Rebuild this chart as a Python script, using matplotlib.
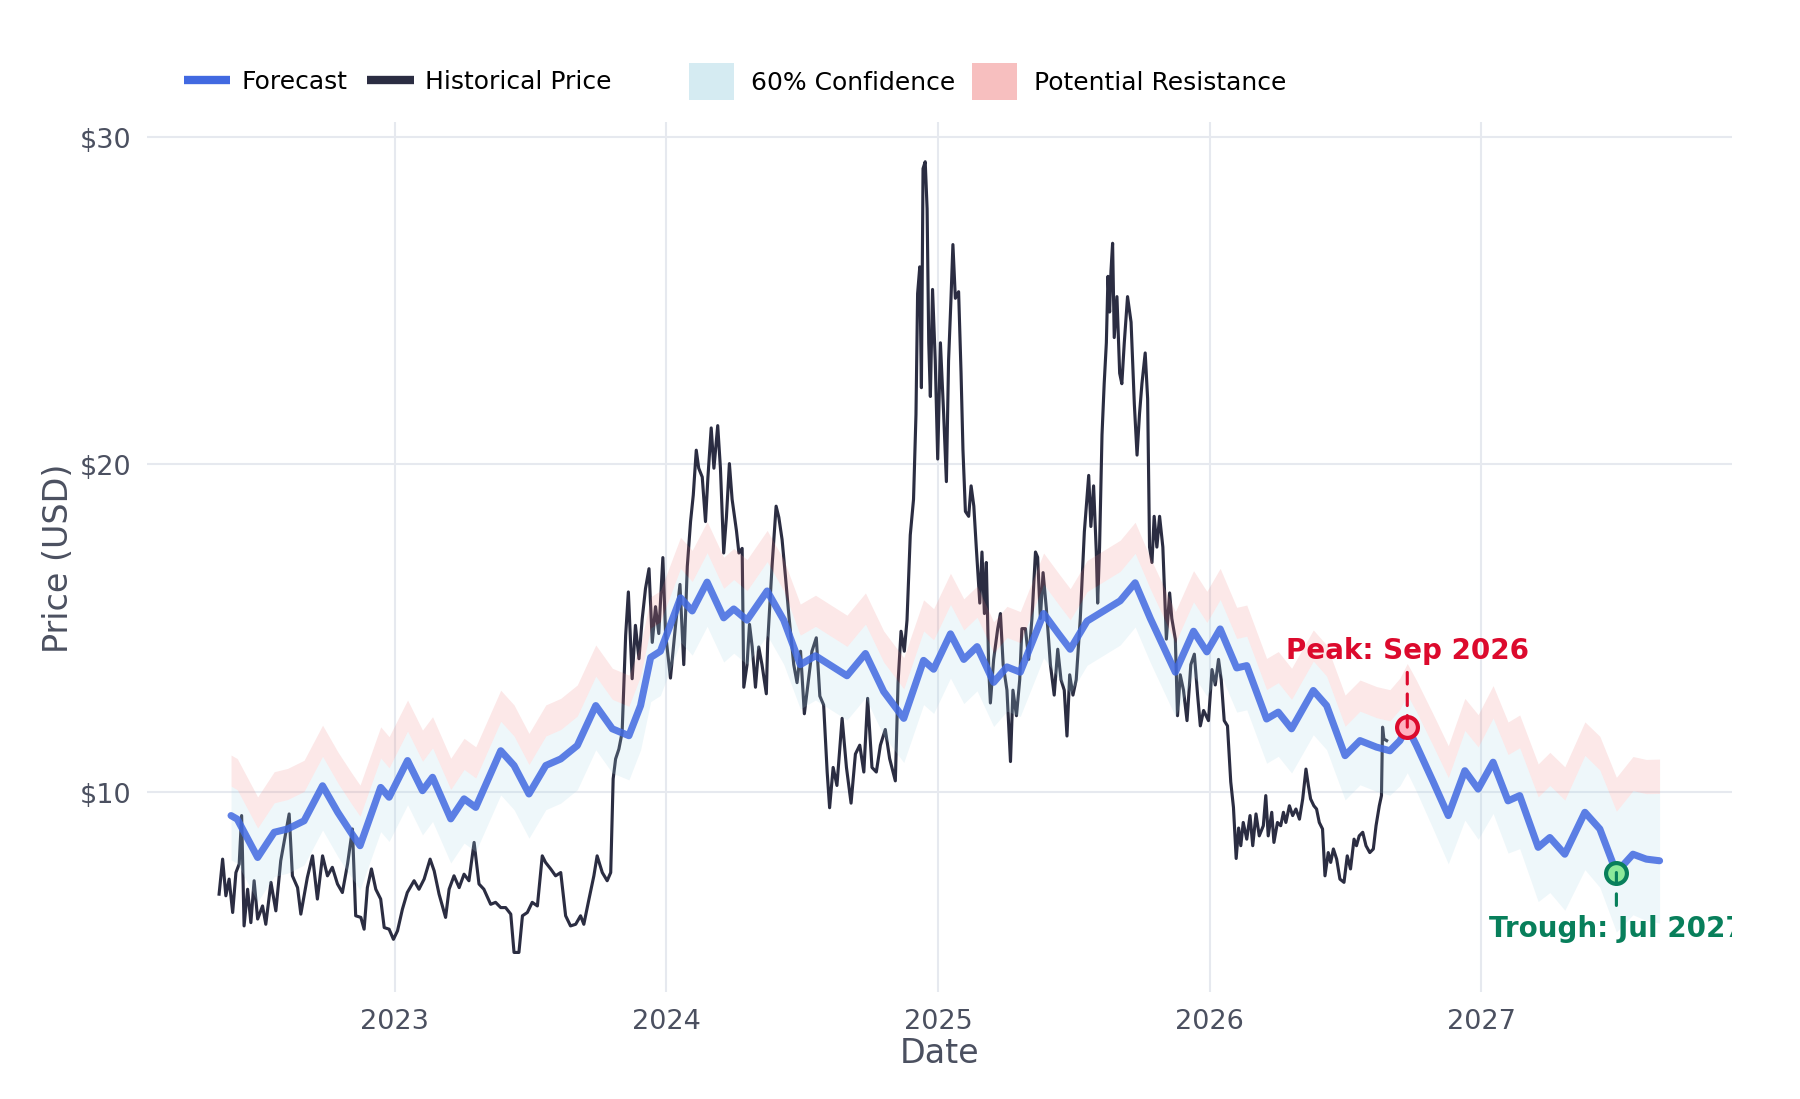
"""
Price history vs. forecast chart with confidence / resistance bands.
"""

from __future__ import annotations

import matplotlib

# Non-interactive backend, no display here.
matplotlib.use("Agg")

import matplotlib.pyplot as plt
import numpy as np
from matplotlib.lines import Line2D
from matplotlib.patches import Patch
from matplotlib.ticker import FuncFormatter

# ---------------------------------------------------------------------------
# Data (decimal years, USD)
# ---------------------------------------------------------------------------

hist_t = [
    2022.353, 2022.366, 2022.378, 2022.390, 2022.403, 2022.415, 2022.427, 2022.436,
    2022.445, 2022.458, 2022.470, 2022.482, 2022.495, 2022.513, 2022.525, 2022.544,
    2022.562, 2022.580, 2022.599, 2022.611, 2022.623, 2022.642, 2022.654, 2022.678,
    2022.697, 2022.715, 2022.734, 2022.752, 2022.770, 2022.789, 2022.807, 2022.826,
    2022.844, 2022.856, 2022.875, 2022.887, 2022.899, 2022.914, 2022.930, 2022.948,
    2022.961, 2022.979, 2022.995, 2023.010, 2023.028, 2023.046, 2023.071, 2023.089,
    2023.108, 2023.130, 2023.145, 2023.163, 2023.187, 2023.200, 2023.218, 2023.237,
    2023.255, 2023.273, 2023.292, 2023.310, 2023.328, 2023.353, 2023.371, 2023.390,
    2023.408, 2023.427, 2023.439, 2023.457, 2023.470, 2023.488, 2023.506, 2023.525,
    2023.543, 2023.555, 2023.574, 2023.592, 2023.611, 2023.629, 2023.647, 2023.666,
    2023.684, 2023.696, 2023.715, 2023.733, 2023.745, 2023.764, 2023.782, 2023.795,
    2023.804, 2023.813, 2023.825, 2023.837, 2023.850, 2023.860, 2023.874, 2023.886,
    2023.899, 2023.911, 2023.923, 2023.936,
    2023.948, 2023.960, 2023.972, 2023.987, 2023.997, 2024.015, 2024.034, 2024.050,
    2024.064, 2024.077, 2024.089, 2024.099, 2024.110, 2024.119, 2024.132, 2024.144,
    2024.153, 2024.165, 2024.175, 2024.189, 2024.199, 2024.211, 2024.221, 2024.232,
    2024.242, 2024.258, 2024.267, 2024.279, 2024.285, 2024.297, 2024.306, 2024.316,
    2024.328, 2024.340, 2024.352, 2024.368, 2024.373, 2024.389, 2024.404, 2024.414,
    2024.426, 2024.438, 2024.451, 2024.469, 2024.481, 2024.494, 2024.508, 2024.520,
    2024.536, 2024.552, 2024.565, 2024.579, 2024.592, 2024.601, 2024.614, 2024.628,
    2024.647, 2024.663, 2024.680, 2024.696, 2024.712, 2024.727, 2024.741, 2024.757,
    2024.773, 2024.788, 2024.806, 2024.822, 2024.843, 2024.853, 2024.864, 2024.876,
    2024.886, 2024.898, 2024.910, 2024.919, 2024.925, 2024.933, 2024.939, 2024.945,
    2024.953, 2024.960, 2024.966, 2024.972, 2024.980, 2024.990, 2024.999, 2025.009,
    2025.021, 2025.031, 2025.039, 2025.048, 2025.055, 2025.064,
    2025.076, 2025.085, 2025.092, 2025.101, 2025.113, 2025.122, 2025.132, 2025.141,
    2025.154, 2025.162, 2025.171, 2025.178, 2025.187, 2025.193, 2025.205, 2025.220,
    2025.230, 2025.240, 2025.254, 2025.267, 2025.276, 2025.289, 2025.301, 2025.309,
    2025.322, 2025.334, 2025.346, 2025.359, 2025.367, 2025.377, 2025.387, 2025.399,
    2025.414, 2025.428, 2025.441, 2025.453, 2025.465, 2025.475, 2025.485, 2025.497,
    2025.509, 2025.524, 2025.539, 2025.555, 2025.563, 2025.573, 2025.583, 2025.588,
    2025.595, 2025.604, 2025.612, 2025.620, 2025.626, 2025.632, 2025.637, 2025.643,
    2025.649, 2025.659, 2025.669, 2025.677, 2025.686, 2025.698, 2025.711, 2025.723,
    2025.733, 2025.742, 2025.751, 2025.763, 2025.772, 2025.779, 2025.788, 2025.796,
    2025.806, 2025.816, 2025.828, 2025.841, 2025.853, 2025.861, 2025.874, 2025.882,
    2025.892, 2025.904, 2025.917, 2025.931, 2025.944, 2025.956, 2025.966, 2025.978,
    2025.996, 2026.009, 2026.021, 2026.033, 2026.043, 2026.054, 2026.066, 2026.078,
    2026.088, 2026.098, 2026.107,
    2026.115, 2026.124, 2026.137, 2026.149, 2026.159, 2026.171, 2026.183, 2026.198,
    2026.207, 2026.216, 2026.229, 2026.237, 2026.250, 2026.262, 2026.272, 2026.281,
    2026.294, 2026.306, 2026.318, 2026.331, 2026.343, 2026.355, 2026.364, 2026.372,
    2026.384, 2026.394, 2026.404, 2026.416, 2026.425, 2026.437, 2026.446, 2026.456,
    2026.468, 2026.480, 2026.495, 2026.507, 2026.519, 2026.532, 2026.541, 2026.551,
    2026.564, 2026.576, 2026.590, 2026.603, 2026.613, 2026.625, 2026.633, 2026.637,
    2026.642, 2026.652,
]

hist_price = [
    6.87, 7.94, 6.82, 7.33, 6.31, 7.53, 7.79, 9.27,
    5.90, 7.02, 6.00, 7.28, 6.11, 6.51, 5.95, 7.23,
    6.36, 7.89, 8.76, 9.32, 7.43, 7.07, 6.26, 7.38,
    8.04, 6.72, 8.04, 7.43, 7.69, 7.18, 6.92, 7.79,
    8.86, 6.21, 6.16, 5.80, 7.07, 7.64, 7.02, 6.72,
    5.85, 5.80, 5.49, 5.75, 6.41, 6.92, 7.28, 7.02,
    7.33, 7.94, 7.58, 6.87, 6.16, 7.02, 7.43, 7.07,
    7.48, 7.28, 8.45, 7.18, 7.02, 6.56, 6.62, 6.46,
    6.46, 6.26, 5.09, 5.09, 6.21, 6.31, 6.62, 6.51,
    8.04, 7.84, 7.64, 7.43, 7.53, 6.21, 5.90, 5.95,
    6.21, 5.95, 6.72, 7.43, 8.04, 7.53, 7.28, 7.53,
    10.39, 11.00, 11.30, 11.81, 14.77, 16.10, 13.45, 15.08,
    14.06, 15.28, 16.20, 16.81,
    14.56, 15.65, 14.83, 17.15, 14.83, 13.47, 15.11, 16.33,
    13.88, 16.88, 18.25, 19.06, 20.43, 19.88, 19.61, 18.25,
    19.61, 21.11, 19.88, 21.18, 19.88, 17.29, 18.38, 20.02,
    18.93, 17.97, 17.29, 17.43, 13.19, 13.88, 15.11, 14.42,
    13.19, 14.42, 13.88, 12.99, 14.56, 16.88, 18.72, 18.38,
    17.70, 16.61, 15.38, 13.88, 13.33, 14.29, 12.38, 13.19,
    14.29, 14.70, 12.92, 12.65, 10.60, 9.51, 10.74, 10.19,
    12.24, 10.74, 9.65, 11.15, 11.42, 10.60, 12.85, 10.74,
    10.60, 11.42, 11.90, 11.01, 10.33, 13.33, 14.90, 14.29,
    15.24, 17.84, 18.93, 21.52, 25.21, 26.03, 22.34, 29.03,
    29.24, 27.80, 23.71, 22.07, 25.34, 23.16, 20.16, 23.71,
    21.52, 19.47, 23.16, 25.07, 26.71, 25.07,
    25.27, 22.78, 20.44, 18.56, 18.41, 19.34, 18.72, 17.47,
    15.76, 17.32, 15.44, 17.00, 13.73, 12.71, 14.04, 14.98,
    15.44, 13.88, 13.10, 10.92, 13.10, 12.32, 13.42, 14.98,
    14.98, 14.04, 15.29, 17.32, 17.16, 15.29, 16.69, 15.60,
    13.88, 12.95, 14.35, 13.42, 13.10, 11.70, 13.57, 12.95,
    13.42, 15.29, 17.94, 19.66, 18.10, 19.34, 17.32, 15.76,
    17.47, 20.90, 22.46, 23.71, 25.74, 24.65, 25.90, 26.75,
    23.87, 25.12, 22.78, 22.46, 23.71, 25.12, 24.34, 21.84,
    20.28, 21.53, 22.46, 23.40, 22.00, 17.47, 17.00, 18.41,
    17.47, 18.41, 17.47, 14.66, 16.07, 15.29, 14.66, 12.32,
    13.57, 13.10, 12.17, 13.88, 14.20, 12.95, 12.01, 12.48,
    12.17, 13.73, 13.26, 14.04, 13.42, 12.17, 12.01, 10.30,
    9.52, 7.96, 8.89,
    8.35, 9.06, 8.55, 9.27, 8.35, 9.32, 8.65, 8.96,
    9.88, 8.65, 9.37, 8.45, 9.06, 8.96, 9.37, 9.06,
    9.57, 9.27, 9.47, 9.16, 9.78, 10.69, 10.18, 9.78,
    9.57, 9.47, 9.06, 8.86, 7.43, 8.14, 7.84, 8.25,
    7.94, 7.33, 7.23, 8.04, 7.64, 8.55, 8.35, 8.65,
    8.76, 8.35, 8.14, 8.25, 8.96, 9.57, 9.88, 11.97,
    11.61, 11.56,
]

forecast_t = [
    2022.397, 2022.420, 2022.495, 2022.556, 2022.605, 2022.666, 2022.734, 2022.790,
    2022.838, 2022.872, 2022.948, 2022.979, 2023.047, 2023.102, 2023.139, 2023.206,
    2023.255, 2023.298, 2023.390, 2023.439, 2023.494, 2023.556, 2023.611, 2023.672,
    2023.740, 2023.801, 2023.862, 2023.905, 2023.942, 2023.978, 2024.052, 2024.095,
    2024.150, 2024.211, 2024.248, 2024.297, 2024.371, 2024.432, 2024.493, 2024.549,
    2024.665, 2024.733, 2024.800, 2024.874, 2024.947, 2024.984, 2025.046, 2025.095,
    2025.144, 2025.205, 2025.254, 2025.303, 2025.389, 2025.444, 2025.487, 2025.549,
    2025.671, 2025.726, 2025.782, 2025.874, 2025.941, 2025.990, 2026.039, 2026.100,
    2026.137, 2026.210, 2026.253, 2026.302, 2026.382, 2026.431, 2026.499, 2026.554,
    2026.615, 2026.664, 2026.701, 2026.728, 2026.762, 2026.824, 2026.879, 2026.940,
    2026.989, 2027.044, 2027.099, 2027.142, 2027.210, 2027.253, 2027.308, 2027.382,
    2027.437, 2027.498, 2027.559, 2027.608, 2027.657,
]

forecast_price = [
    9.27, 9.16, 7.99, 8.76, 8.86, 9.11, 10.18, 9.37,
    8.76, 8.35, 10.13, 9.83, 10.95, 10.03, 10.44, 9.17,
    9.78, 9.52, 11.25, 10.80, 9.93, 10.80, 11.00, 11.41,
    12.63, 11.92, 11.71, 12.63, 14.10, 14.29, 15.92, 15.52,
    16.40, 15.31, 15.58, 15.24, 16.13, 15.24, 13.88, 14.15,
    13.54, 14.22, 13.06, 12.24, 14.01, 13.74, 14.82, 14.04,
    14.43, 13.34, 13.81, 13.65, 15.44, 14.82, 14.35, 15.21,
    15.83, 16.38, 15.29, 13.65, 14.90, 14.27, 14.97, 13.78,
    13.85, 12.22, 12.43, 11.92, 13.09, 12.63, 11.10, 11.56,
    11.36, 11.25, 11.56, 11.97, 11.41, 10.29, 9.27, 10.64,
    10.08, 10.90, 9.72, 9.88, 8.30, 8.60, 8.09, 9.37,
    8.86, 7.53, 8.09, 7.94, 7.89,
]

# Band spread around the forecast (USD); widens after the last observed price.
conf_below = 1.35
conf_above = 0.90
resistance_above = 0.95
conf_below_growth = 0.55
conf_above_growth = 1.15
resistance_growth = 0.10

year_ticks = [2023, 2024, 2025, 2026, 2027]
price_ticks = [10, 20, 30]

peak_label = "Peak: Sep 2026"
trough_label = "Trough: Jul 2027"

FORECAST_COLOR = "#4169e1"
HISTORY_COLOR = "#2b2d42"
CONF_COLOR = "#add8e6"
RESIST_COLOR = "#f08080"
PEAK_COLOR = "#dc0a2d"
TROUGH_COLOR = "#087f5b"
TEXT_COLOR = "#4b5060"
GRID_COLOR = "#e6e9ef"


def build_bands(t: np.ndarray, price: np.ndarray, last_obs: float):
    """
    Confidence band and resistance zone around the forecast.
    """

    horizon = np.clip(t - last_obs, 0, None)
    lower = price - (conf_below + conf_below_growth * horizon)
    upper = price + (conf_above + conf_above_growth * horizon)
    resist = upper + (resistance_above + resistance_growth * horizon)
    return lower, upper, resist


def mark_extreme(ax, t, value, label, color, face, offset):
    """
    Circle marker with a dashed leader to a bold label.
    """

    ax.plot(
        t,
        value,
        "o",
        ms=10,
        mfc=face,
        mec=color,
        mew=2,
        zorder=5,
    )
    ann = ax.annotate(
        label,
        xy=(t, value),
        xytext=(0, offset),
        textcoords="offset points",
        ha="center",
        va="center",
        fontsize=13.3,
        fontweight="bold",
        color=color,
        zorder=6,
        arrowprops=dict(
            arrowstyle="-",
            color=color,
            lw=1.5,
            linestyle=(0, (3.7, 3.2)),
            shrinkA=2,
            shrinkB=0,
        ),
    )
    # keep the label inside the plotting area, like the original
    ann.set_clip_on(True)
    ann.set_clip_box(ax.bbox)


def plot_forecast(output_path: str = "out.png") -> None:
    """
    Historical price, forecast line and shaded bands.
    """

    ht = np.array(hist_t)
    hp = np.array(hist_price)
    ft = np.array(forecast_t)
    fp = np.array(forecast_price)

    lower, upper, resist = build_bands(ft, fp, ht[-1])

    fig, ax = plt.subplots(figsize=(12, 7.3333), dpi=150)
    fig.subplots_adjust(left=0.0817, right=0.962, bottom=0.0973, top=0.888)

    ax.plot(ht, hp, color=HISTORY_COLOR, lw=1.5, zorder=2)

    ax.fill_between(ft, lower, upper, color=CONF_COLOR, alpha=0.2, lw=0, zorder=3)
    ax.fill_between(ft, upper, resist, color=RESIST_COLOR, alpha=0.18, lw=0, zorder=3)

    ax.plot(
        ft,
        fp,
        color=FORECAST_COLOR,
        lw=3.4,
        alpha=0.85,
        solid_capstyle="round",
        solid_joinstyle="round",
        zorder=4,
    )

    peak_idx = int(np.argmin(np.abs(ft - 2026.728)))
    trough_idx = int(np.argmin(fp))

    mark_extreme(ax, ft[peak_idx], fp[peak_idx], peak_label, PEAK_COLOR, "#ffb3c1", 37)
    mark_extreme(ax, ft[trough_idx], fp[trough_idx], trough_label, TROUGH_COLOR, "#8ce99a", -26.5)

    ax.set_xticks(year_ticks)
    ax.set_xticklabels([str(y) for y in year_ticks])
    ax.set_yticks(price_ticks)
    ax.yaxis.set_major_formatter(FuncFormatter(lambda v, _: f"${v:.0f}"))

    ax.grid(True, color=GRID_COLOR, lw=1.0)
    ax.set_axisbelow(True)
    for spine in ax.spines.values():
        spine.set_visible(False)
    ax.tick_params(length=0, pad=7.5, labelsize=13, labelcolor=TEXT_COLOR)

    ax.set_xlabel("Date", fontsize=16, color=TEXT_COLOR, labelpad=1)
    ax.set_ylabel("Price (USD)", fontsize=16, color=TEXT_COLOR, labelpad=2.3)

    line_handles = [
        Line2D([0], [0], color=FORECAST_COLOR, lw=4, solid_capstyle="butt"),
        Line2D([0], [0], color=HISTORY_COLOR, lw=4, solid_capstyle="butt"),
    ]
    band_handles = [
        Patch(facecolor=CONF_COLOR, alpha=0.5, lw=0),
        Patch(facecolor=RESIST_COLOR, alpha=0.5, lw=0),
    ]

    fig.legend(
        line_handles,
        ["Forecast", "Historical Price"],
        loc="center left",
        bbox_to_anchor=(0.1022, 0.925),
        ncol=2,
        frameon=False,
        fontsize=12,
        borderpad=0,
        borderaxespad=0,
        handlelength=1.85,
        handletextpad=0.45,
        columnspacing=0.8,
    )
    fig.legend(
        band_handles,
        ["60% Confidence", "Potential Resistance"],
        loc="center left",
        bbox_to_anchor=(0.383, 0.925),
        ncol=2,
        frameon=False,
        fontsize=12,
        borderpad=0,
        borderaxespad=0,
        handlelength=1.8,
        handleheight=1.9,
        handletextpad=0.65,
        columnspacing=0.7,
    )

    fig.savefig(output_path, dpi=150)
    plt.close(fig)


if __name__ == "__main__":
    plot_forecast("out.png")
